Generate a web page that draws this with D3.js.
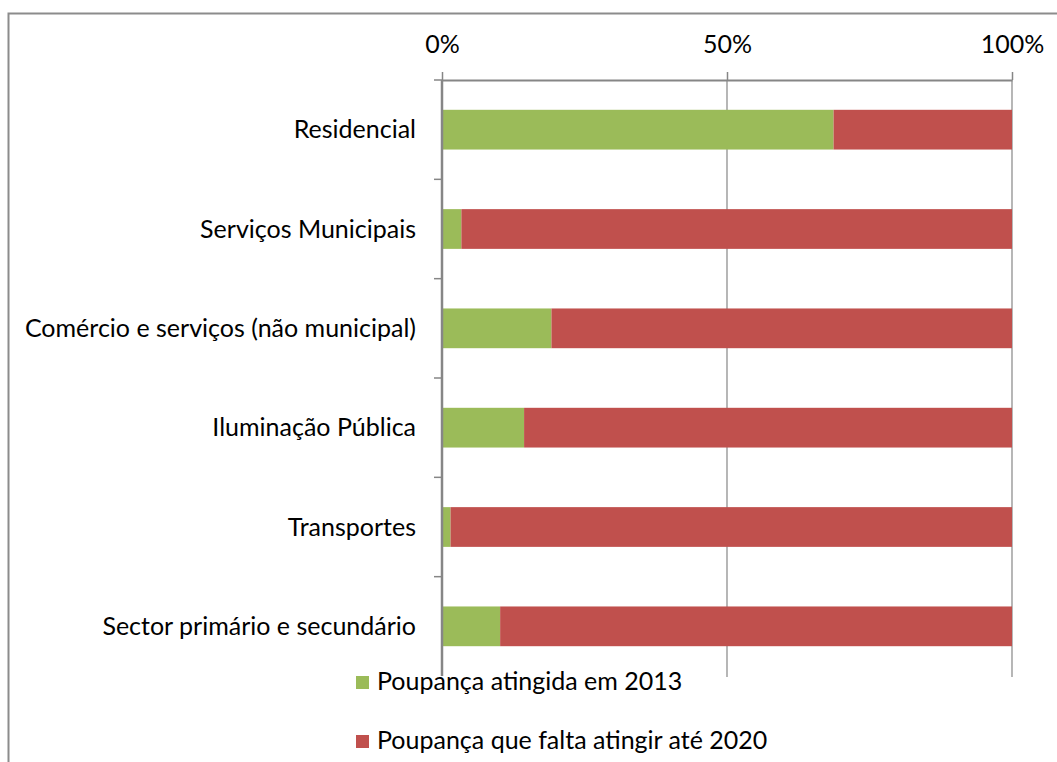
<!DOCTYPE html>
<html>
<head>
<meta charset="utf-8">
<script src="https://cdn.jsdelivr.net/npm/d3@7"></script>
<style>
	body { margin: 0; background: #fff; }
	text { font-family: Lato, "Open Sans", sans-serif; fill: #000; }
</style>
</head>
<body>
<svg width="1057" height="762"></svg>
<script>
var categories = ["Residencial", "Serviços Municipais", "Comércio e serviços (não municipal)",
	"Iluminação Pública", "Transportes", "Sector primário e secundário"];
var atingida = [0.687, 0.034, 0.192, 0.144, 0.015, 0.102];
var falta = atingida.map(function (v) { return 1 - v; });
var seriesNames = ["Poupança atingida em 2013", "Poupança que falta atingir até 2020"];
var seriesColors = ["#9BBB59", "#C0504D"];
var tickValues = [0, 0.5, 1];

function drawChart() {
	var svg = d3.select("svg");
	var fontSize = 25;

	// chart frame
	svg.append("rect")
		.attr("x", 8.5).attr("y", 13.5)
		.attr("width", 1100).attr("height", 800)
		.attr("fill", "none")
		.attr("stroke", "#8c8c8c")
		.attr("stroke-width", 2);

	var x = d3.scaleLinear().domain([0, 1]).range([442, 1012]);
	var y = d3.scaleBand().domain(categories).range([80, 676])
		.paddingInner(0.6).paddingOuter(0.3);
	var step = y.step();

	// gridlines
	svg.append("g").selectAll("line")
		.data(tickValues.slice(1))
		.enter()
		.append("line")
		.attr("x1", function (d) { return x(d) })
		.attr("x2", function (d) { return x(d) })
		.attr("y1", 80).attr("y2", 677)
		.attr("stroke", "#868686")
		.attr("stroke-width", 1.2);

	// stacked bars
	var stackData = categories.map(function (c, i) {
		return { cat: c, a: atingida[i], f: falta[i] };
	});
	var series = d3.stack().keys(["a", "f"])(stackData);

	svg.append("g").selectAll("g")
		.data(series)
		.enter()
		.append("g")
		.attr("fill", function (d, i) { return seriesColors[i] })
		.selectAll("rect")
		.data(function (d) { return d })
		.enter()
		.append("rect")
		.attr("x", function (d) { return x(d[0]) })
		.attr("width", function (d) { return x(d[1]) - x(d[0]) })
		.attr("y", function (d) { return y(d.data.cat) })
		.attr("height", y.bandwidth());

	// top axis
	var top = svg.append("g")
		.attr("transform", "translate(0,80)")
		.call(d3.axisTop(x).tickValues(tickValues).tickFormat(d3.format(".0%"))
			.tickSize(8).tickPadding(19).tickSizeOuter(0));
	top.select(".domain").attr("stroke", "#868686").attr("stroke-width", 2);
	top.selectAll(".tick line").attr("stroke", "#868686").attr("stroke-width", 1.5);
	top.selectAll("text")
		.attr("font-size", fontSize + "px")
		.attr("font-family", "Lato")
		.attr("fill", "#000");

	// left axis: line with ticks between categories
	var bounds = d3.range(categories.length + 1).map(function (i) {
		return y.range()[0] + i * step;
	});
	svg.append("line")
		.attr("x1", 442).attr("x2", 442)
		.attr("y1", 80).attr("y2", bounds[bounds.length - 1])
		.attr("stroke", "#868686")
		.attr("stroke-width", 2.5);
	svg.append("g").selectAll("line")
		.data(bounds.slice(0, -1))
		.enter()
		.append("line")
		.attr("x1", 434).attr("x2", 442)
		.attr("y1", function (d) { return d })
		.attr("y2", function (d) { return d })
		.attr("stroke", "#868686")
		.attr("stroke-width", 1.5);

	// category labels
	svg.append("g").selectAll("text")
		.data(categories)
		.enter()
		.append("text")
		.attr("x", 416)
		.attr("y", function (d) { return y(d) + y.bandwidth() / 2 })
		.attr("dy", "0.35em")
		.attr("text-anchor", "end")
		.attr("font-size", fontSize + "px")
		.text(function (d) { return d });

	// legend
	var legend = svg.append("g").selectAll("g")
		.data(seriesNames)
		.enter()
		.append("g")
		.attr("transform", function (d, i) { return "translate(377," + (690 + i * 59) + ")" });
	legend.append("rect")
		.attr("x", -21).attr("y", -14)
		.attr("width", 13).attr("height", 13)
		.attr("fill", function (d, i) { return seriesColors[i] });
	legend.append("text")
		.attr("font-size", fontSize + "px")
		.text(function (d) { return d });
}

drawChart();
</script>
</body>
</html>
